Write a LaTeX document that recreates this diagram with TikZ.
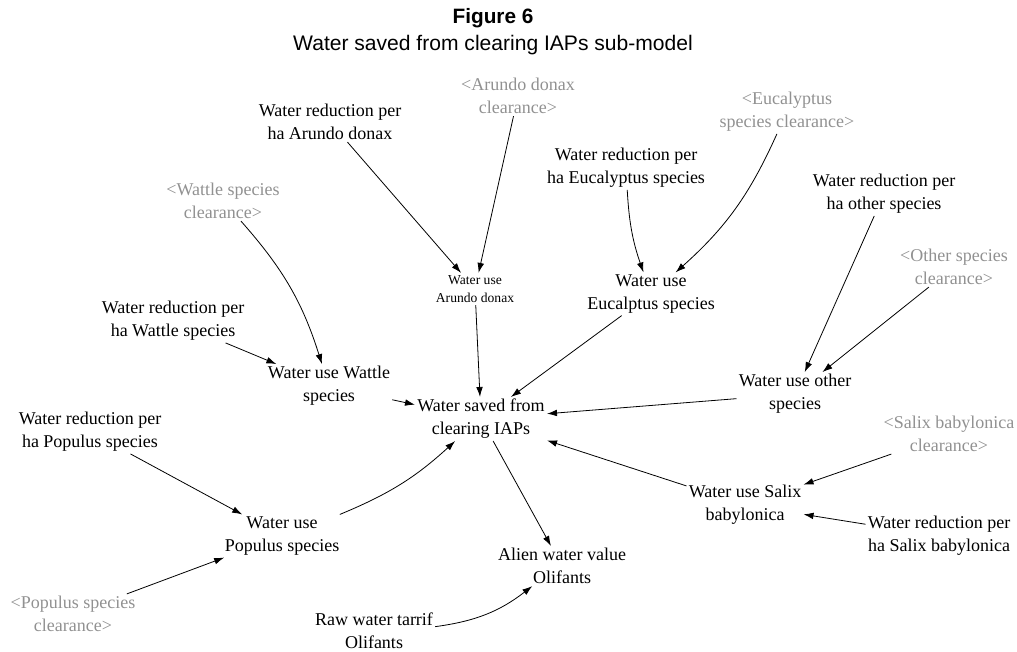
\documentclass[tikz,border=0pt]{standalone}
\usepackage{fontspec}
\setmainfont{Liberation Serif}
\newfontfamily\titlefont{Liberation Sans}
\usetikzlibrary{arrows.meta}
\definecolor{shadowgray}{RGB}{145,145,145}
\tikzset{
  var/.style={align=center, inner sep=1.5pt, font=\fontsize{13.5pt}{17.25pt}\selectfont},
  smallvar/.style={align=center, inner sep=1.5pt, font=\fontsize{10.2pt}{14pt}\selectfont},
  shadow/.style={var, text=shadowgray},
  arr/.style={-{Latex[length=7.5pt,width=5pt]}, line width=0.6pt},
}
\begin{document}
\begin{tikzpicture}[x=0.75pt,y=0.75pt]
\useasboundingbox (0,0) rectangle (1017,651);
\node[font=\titlefont\bfseries\fontsize{15.6pt}{18pt}\selectfont] (title) at (493,633) {Figure 6};
\node[font=\titlefont\fontsize{15.8pt}{18pt}\selectfont] (subtitle) at (493,606) {Water saved from clearing IAPs sub-model};

\node[shadow] (arundoClr) at (518,555) {<Arundo donax\\clearance>};
\node[var] (redArundo) at (330,529) {Water reduction per\\ha Arundo donax};
\node[shadow] (wattleClr) at (223,450) {<Wattle species\\clearance>};
\node[smallvar] (waterArundo) at (475,362) {Water use\\Arundo donax};
\node[shadow] (euclClr) at (787,539) {<Eucalyptus\\species clearance>};
\node[var] (redEucl) at (626,483) {Water reduction per\\ha Eucalyptus species};
\node[var] (redOther) at (884,457) {Water reduction per\\ha other species};
\node[shadow] (otherClr) at (954,384) {<Other species\\clearance>};
\node[var] (waterEucl) at (651,357) {Water use\\Eucalptus species};
\node[var] (redWattle) at (173,330) {Water reduction per\\ha Wattle species};
\node[var] (waterWattle) at (329,265) {Water use Wattle\\species};
\node[var] (waterSaved) at (481,232) {Water saved from\\clearing IAPs};
\node[var] (waterOther) at (795,257) {Water use other\\species};
\node[var] (redPopulus) at (90,219) {Water reduction per\\ha Populus species};
\node[shadow] (salixClr) at (949,217) {<Salix babylonica\\clearance>};
\node[var] (waterSalix) at (745,146) {Water use Salix\\babylonica};
\node[var] (waterPopulus) at (282,115) {Water use\\Populus species};
\node[var] (redSalix) at (939,115) {Water reduction per\\ha Salix babylonica};
\node[var] (alien) at (562,85) {Alien water value\\Olifants};
\node[shadow] (populusClr) at (73,37) {<Populus species\\clearance>};
\node[var] (rawWater) at (374,20) {Raw water tarrif\\Olifants};

\draw[arr] (redArundo) -- (waterArundo);
\draw[arr] (arundoClr) -- (waterArundo);
\draw[arr] (wattleClr) to[bend left=12] (waterWattle);
\draw[arr] (redWattle) -- (waterWattle);
\draw[arr] (waterArundo) -- (waterSaved);
\draw[arr] (waterWattle) -- (waterSaved);
\draw[arr] (redEucl) to[bend right=8] (waterEucl);
\draw[arr] (euclClr) to[bend left=12] (waterEucl);
\draw[arr] (waterEucl) -- (waterSaved);
\draw[arr] (redOther) -- (waterOther);
\draw[arr] (otherClr) -- (waterOther);
\draw[arr] (waterOther) -- (waterSaved);
\draw[arr] (waterSalix) -- (waterSaved);
\draw[arr] (salixClr) -- (waterSalix);
\draw[arr] (redSalix) -- (waterSalix);
\draw[arr] (waterSaved) -- (alien);
\draw[arr] (redPopulus) -- (waterPopulus);
\draw[arr] (waterPopulus) to[bend right=10] (waterSaved);
\draw[arr] (populusClr) -- (waterPopulus);
\draw[arr] (rawWater) to[bend right=15] (alien);
\end{tikzpicture}
\end{document}
